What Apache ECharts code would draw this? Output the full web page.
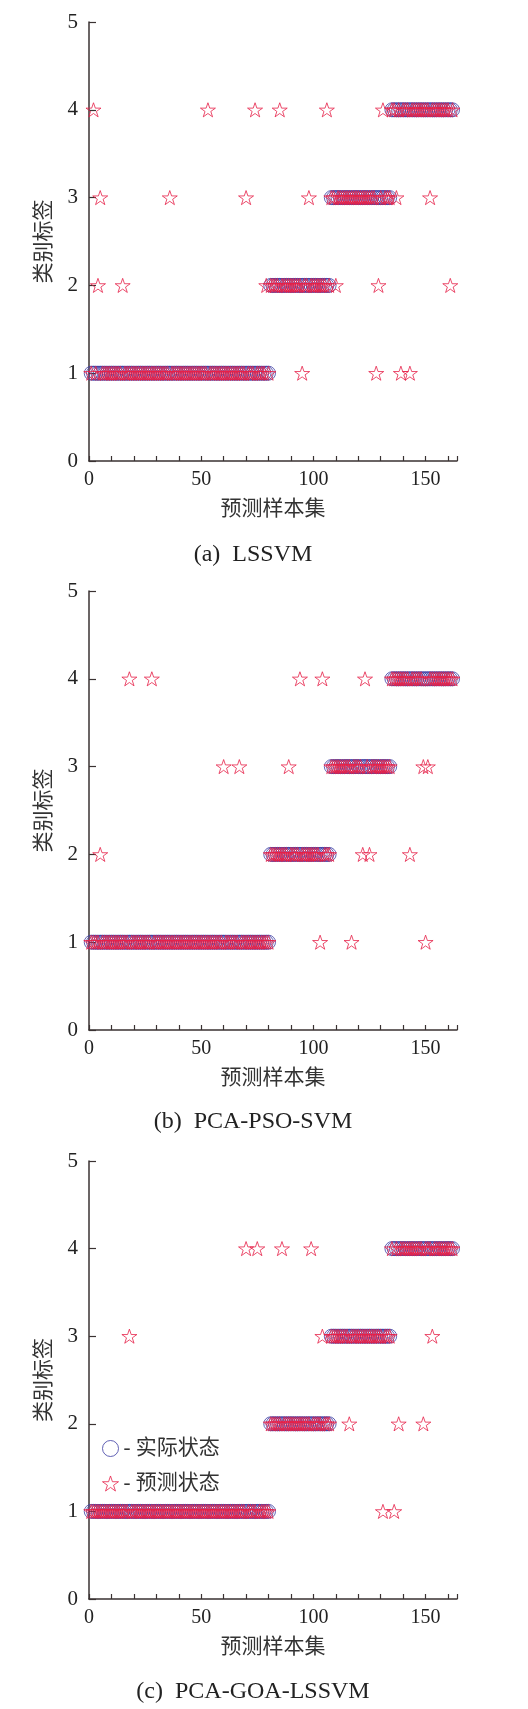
<!DOCTYPE html>
<html><head><meta charset="utf-8">
<script src="https://cdn.jsdelivr.net/npm/echarts@6/dist/echarts.min.js"></script>
<style>html,body{margin:0;padding:0;background:#fff}#c{width:528px;height:1709px}</style>
</head><body><div id="c"></div>
<script>
// ---- data ----
// actual class labels as runs: [class, count] for samples 1..162
const actualRuns = [[1, 80], [2, 27], [3, 27], [4, 28]];
// misclassified samples: [sample index, predicted class]
const errorsA = [[2,4],[4,2],[5,3],[15,2],[36,3],[53,4],[70,3],[74,4],[79,2],[85,4],[95,1],[98,3],[106,4],[110,2],[128,1],[129,2],[131,4],[137,3],[139,1],[143,1],[152,3],[161,2]];
const errorsB = [[5,2],[18,4],[28,4],[60,3],[67,3],[89,3],[94,4],[103,1],[104,4],[117,1],[122,2],[123,4],[125,2],[143,2],[149,3],[150,1],[151,3]];
const errorsC = [[18,3],[70,4],[75,4],[86,4],[99,4],[104,3],[116,2],[131,1],[136,1],[138,2],[149,2],[153,3]];
const captions = ['(a)  LSSVM', '(b)  PCA-PSO-SVM', '(c)  PCA-GOA-LSSVM'];
const xName = '预测样本集';
const yName = '类别标签';
const seriesNames = ['实际状态', '预测状态'];
const xMax = 164;
const yMax = 5;

// ---- build ----
const actual = [];
actualRuns.forEach(([cls, n]) => { for (let k = 0; k < n; k++) actual.push(cls); });
function predicted(errors) {
  const m = new Map(errors);
  return actual.map((c, i) => [i + 1, m.has(i + 1) ? m.get(i + 1) : c]);
}
const actualData = actual.map((c, i) => [i + 1, c]);
const predSets = [predicted(errorsA), predicted(errorsB), predicted(errorsC)];

const FONT = '"Liberation Serif","Noto Sans CJK SC",serif';
const STAR = 'path://M50,0 L61.8,35.1 L98.9,35.1 L68.9,56.7 L80.3,91.9 L50,70 L19.7,91.9 L31.1,56.7 L1.1,35.1 L38.2,35.1 Z';
const CIRCLE_COLOR = '#3c3ca2';
const STAR_COLOR = '#e62048';
const AXIS_COLOR = '#3a3232';

const layout = [
  {top: 22, height: 439, capTop: 538},
  {top: 591, height: 439, capTop: 1105},
  {top: 1161, height: 438, capTop: 1675}
];

const grid = [], xAxis = [], yAxis = [], series = [], title = [];
layout.forEach((L, p) => {
  grid.push({left: 89, top: L.top, width: 368, height: L.height});
  xAxis.push({
    type: 'value', gridIndex: p, min: 0, max: xMax, interval: 10,
    name: xName, nameLocation: 'middle', nameGap: 38,
    nameTextStyle: {fontFamily: FONT, fontSize: 21, color: '#333'},
    axisLine: {lineStyle: {color: AXIS_COLOR, width: 1.5}},
    axisTick: {inside: true, length: 5, lineStyle: {color: AXIS_COLOR, width: 1.2}},
    axisLabel: {fontFamily: FONT, fontSize: 20, color: '#222', margin: 9,
      formatter: v => (v % 50 === 0 ? String(v) : '')},
    splitLine: {show: false}
  });
  yAxis.push({
    type: 'value', gridIndex: p, min: 0, max: yMax, interval: 1,
    name: yName, nameLocation: 'middle', nameGap: 34,
    nameTextStyle: {fontFamily: FONT, fontSize: 21, color: '#333'},
    axisLine: {lineStyle: {color: AXIS_COLOR, width: 1.5}},
    axisTick: {inside: true, length: 7, lineStyle: {color: AXIS_COLOR, width: 1.2}},
    axisLabel: {fontFamily: FONT, fontSize: 21, color: '#222', margin: 11},
    splitLine: {show: false}
  });
  series.push({
    name: seriesNames[0], type: 'scatter', xAxisIndex: p, yAxisIndex: p,
    symbol: 'circle', symbolSize: 14, data: actualData,
    itemStyle: {color: 'rgba(0,0,0,0)', borderColor: CIRCLE_COLOR, borderWidth: 1},
    emphasis: {disabled: true}, animation: false
  });
  series.push({
    name: seriesNames[1], type: 'scatter', xAxisIndex: p, yAxisIndex: p,
    symbol: STAR, symbolSize: 15, symbolKeepAspect: true, data: predSets[p],
    itemStyle: {color: 'rgba(0,0,0,0)', borderColor: STAR_COLOR, borderWidth: 1},
    emphasis: {disabled: true}, animation: false
  });
  title.push({
    text: captions[p], left: 248, top: L.capTop, textAlign: 'center',
    textStyle: {fontFamily: FONT, fontSize: 24, fontWeight: 'normal', color: '#222'}
  });
});

const chart = echarts.init(document.getElementById('c'), null, {renderer: 'canvas'});
chart.setOption({
  animation: false,
  backgroundColor: '#fff',
  title, grid, xAxis, yAxis, series,
  legend: {
    orient: 'vertical', left: 102, top: 1438, padding: 0,
    itemWidth: 16, itemHeight: 16, itemGap: 14,
    selectedMode: false,
    formatter: n => '- ' + n,
    textStyle: {fontFamily: FONT, fontSize: 21, color: '#333'},
    data: [
      {name: seriesNames[0], icon: 'circle', itemStyle: {color: 'rgba(0,0,0,0)', borderColor: CIRCLE_COLOR, borderWidth: 1}},
      {name: seriesNames[1], icon: STAR, itemStyle: {color: 'rgba(0,0,0,0)', borderColor: STAR_COLOR, borderWidth: 1}}
    ]
  }
});
</script></body></html>
